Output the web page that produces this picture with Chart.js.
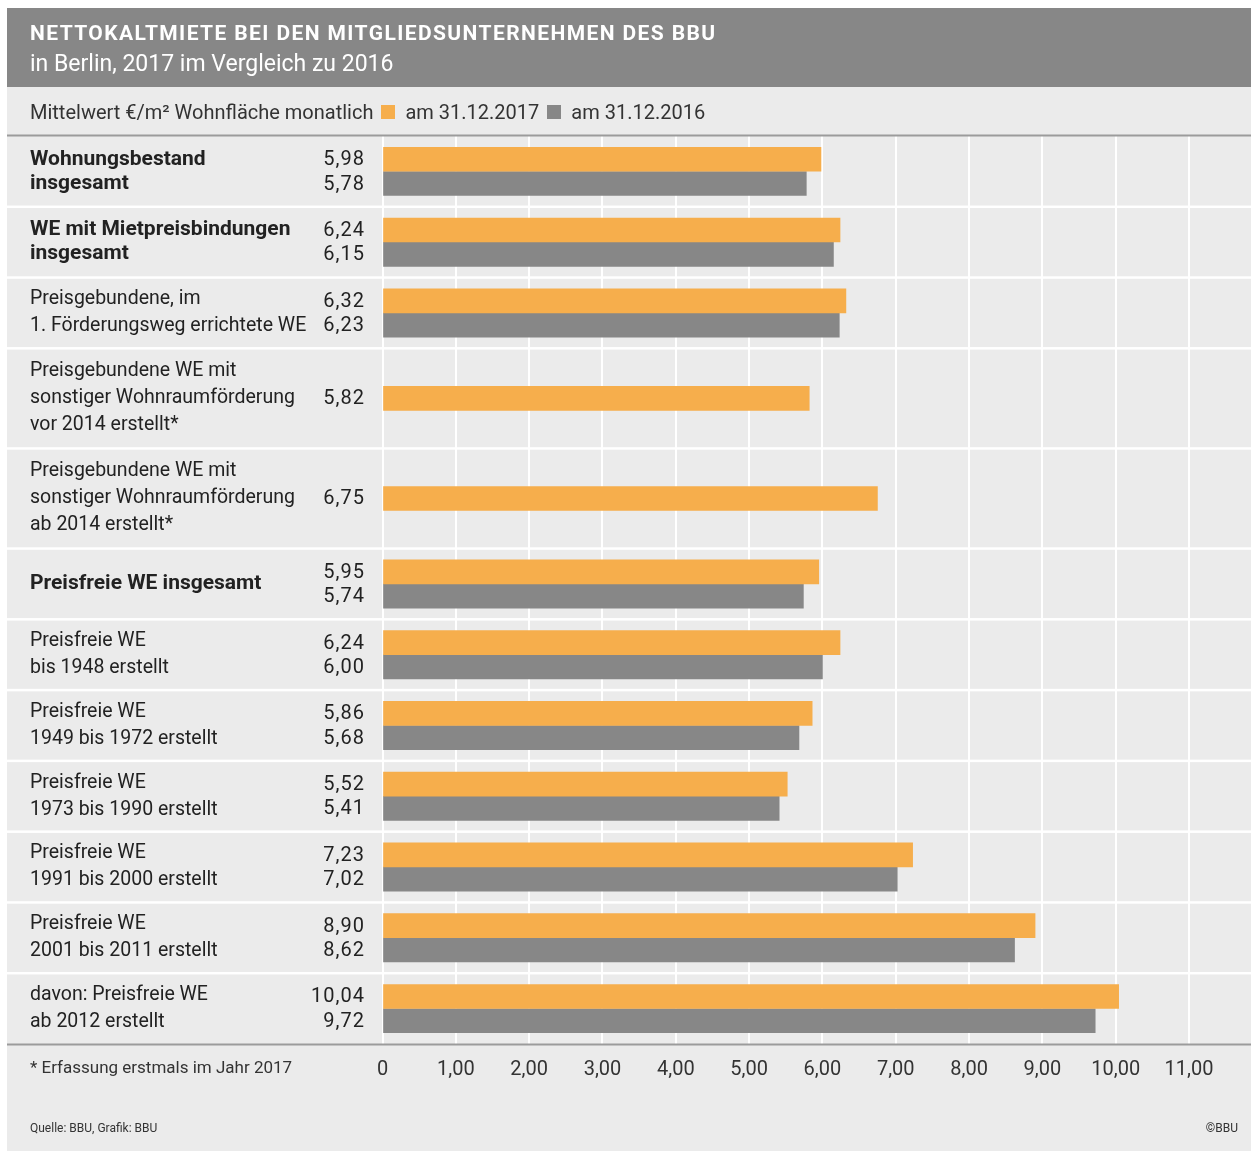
<!DOCTYPE html>
<html lang="de">
<head>
<meta charset="utf-8">
<title>Nettokaltmiete bei den Mitgliedsunternehmen des BBU</title>
<script src="https://cdn.jsdelivr.net/npm/chart.js@4.4.1/dist/chart.umd.min.js"></script>
<style>
  html, body { margin: 0; padding: 0; background: #ffffff; }
  #wrap { position: relative; width: 1251px; height: 1151px; overflow: hidden; font-family: Roboto, "Noto Sans", sans-serif; color: #222; }
  #chart { position: absolute; left: 0; top: 0; }
  .txt { position: absolute; white-space: nowrap; }
  #title { left: 30px; top: 21px; font-size: 21px; font-weight: 700; letter-spacing: 1.4px; color: #fff; }
  #subtitle { left: 30px; top: 50px; font-size: 23px; color: #fff; }
  #legend { left: 30px; top: 100px; font-size: 20px; color: #333; display: flex; align-items: center; }
  #legend .sw { display: inline-block; width: 14px; height: 14px; margin: 0 10px 0 8px; }
  #legend .item { display: inline-flex; align-items: center; }
  #note { left: 30px; top: 1057px; font-size: 17px; color: #333; }
  #source { left: 30px; top: 1121px; font-size: 12px; color: #333; }
  #copy { right: 13px; top: 1121px; font-size: 12px; color: #333; }
</style>
</head>
<body>
<div id="wrap">
  <canvas id="chart" width="1251" height="1151"></canvas>
  <div class="txt" id="title">NETTOKALTMIETE BEI DEN MITGLIEDSUNTERNEHMEN DES BBU</div>
  <div class="txt" id="subtitle">in Berlin, 2017 im Vergleich zu 2016</div>
  <div class="txt" id="legend"><span>Mittelwert €/m² Wohnfläche monatlich</span></div>
  <div class="txt" id="note">* Erfassung erstmals im Jahr 2017</div>
  <div class="txt" id="source">Quelle: BBU, Grafik: BBU</div>
  <div class="txt" id="copy">©BBU</div>
</div>
<script>
// Kategorien (Zeilenbeschriftungen, je Zeile ein Array von Textzeilen)
const categories = [
  ["Wohnungsbestand", "insgesamt"],
  ["WE mit Mietpreisbindungen", "insgesamt"],
  ["Preisgebundene, im", "1. Förderungsweg errichtete WE"],
  ["Preisgebundene WE mit", "sonstiger Wohnraumförderung", "vor 2014 erstellt*"],
  ["Preisgebundene WE mit", "sonstiger Wohnraumförderung", "ab 2014 erstellt*"],
  ["Preisfreie WE insgesamt"],
  ["Preisfreie WE", "bis 1948 erstellt"],
  ["Preisfreie WE", "1949 bis 1972 erstellt"],
  ["Preisfreie WE", "1973 bis 1990 erstellt"],
  ["Preisfreie WE", "1991 bis 2000 erstellt"],
  ["Preisfreie WE", "2001 bis 2011 erstellt"],
  ["davon: Preisfreie WE", "ab 2012 erstellt"]
];
// Summenzeilen (fett gesetzt)
const totalRows = [0, 1, 5];

// Mittelwerte €/m² Wohnfläche monatlich
const values2017 = [5.98, 6.24, 6.32, 5.82, 6.75, 5.95, 6.24, 5.86, 5.52, 7.23, 8.90, 10.04];
const values2016 = [5.78, 6.15, 6.23, null, null, 5.74, 6.00, 5.68, 5.41, 7.02, 8.62, 9.72];

const seriesLabels = ["am 31.12.2017", "am 31.12.2016"];

// Achsenbeschriftung
const tickValues = [0, 1, 2, 3, 4, 5, 6, 7, 8, 9, 10, 11];
const tickLabels = ["0", "1,00", "2,00", "3,00", "4,00", "5,00", "6,00", "7,00", "8,00", "9,00", "10,00", "11,00"];

// --- Zeilenraster: dreizeilige Beschriftungen bekommen mehr Höhe ---
const ORANGE = "#f6ae4c";
const GREY = "#878787";
const BG = "#ebebeb";
const FONT = "Roboto, 'Noto Sans', sans-serif";
const UNIT_SHORT = 7, UNIT_TALL = 9.9, HALF_BAR = 1.2;
const rowStart = [];
const rowCenter = [];
let acc = 0;
categories.forEach((lines) => {
  const h = lines.length >= 3 ? UNIT_TALL : UNIT_SHORT;
  rowStart.push(acc);
  rowCenter.push(acc + h / 2);
  acc += h;
});
const totalUnits = acc;

const points2017 = values2017.map((v, i) => ({ x: v, y: rowCenter[i] - (values2016[i] == null ? 0 : HALF_BAR) }));
const points2016 = values2016.map((v, i) => v == null ? null : ({ x: v, y: rowCenter[i] + HALF_BAR })).filter(p => p);

const fmt = (v) => v.toFixed(2).replace(".", ",");

// Hintergrundflächen, Zeilentrenner, Linien und Wertbeschriftung
const framePlugin = {
  id: "frame",
  beforeDraw(chart) {
    const { ctx, width, height } = chart;
    ctx.save();
    ctx.fillStyle = "#ffffff";
    ctx.fillRect(0, 0, width, height);
    ctx.fillStyle = BG;
    ctx.fillRect(7, 8, width - 7, height - 8);
    ctx.fillStyle = GREY;
    ctx.fillRect(7, 8, width - 7, 79);
    ctx.restore();
  },
  beforeDatasetsDraw(chart) {
    const { ctx, width, chartArea } = chart;
    const y = chart.scales.y;
    ctx.save();
    ctx.fillStyle = "#ffffff";
    for (let i = 1; i < rowStart.length; i++) {
      const py = y.getPixelForValue(rowStart[i]);
      ctx.fillRect(7, py - 1.25, width - 7, 2.5);
    }
    ctx.fillStyle = "#9b9b9b";
    ctx.fillRect(7, chartArea.top - 1.5, width - 7, 2);
    ctx.fillRect(7, chartArea.bottom - 0.5, width - 7, 2);
    ctx.restore();
  },
  afterDatasetsDraw(chart) {
    const { ctx } = chart;
    ctx.save();
    ctx.font = "20px " + FONT;
    ctx.letterSpacing = "1px";
    ctx.fillStyle = "#222";
    ctx.textAlign = "right";
    ctx.textBaseline = "middle";
    chart.data.datasets.forEach((ds, di) => {
      const meta = chart.getDatasetMeta(di);
      meta.data.forEach((bar, j) => {
        const v = ds.data[j].x;
        ctx.fillText(fmt(v), 365, bar.y + 1);
      });
    });
    ctx.restore();
  }
};

const chart = new Chart(document.getElementById("chart"), {
  type: "bar",
  data: {
    datasets: [
      { label: seriesLabels[0], data: points2017, backgroundColor: ORANGE },
      { label: seriesLabels[1], data: points2016, backgroundColor: GREY }
    ]
  },
  options: {
    responsive: false,
    animation: false,
    indexAxis: "y",
    layout: { padding: { left: 30, top: 136, right: 0, bottom: 57 } },
    datasets: { bar: { grouped: false, barThickness: 24, borderWidth: 0 } },
    plugins: { legend: { display: false }, tooltip: { enabled: false } },
    scales: {
      x: {
        type: "linear",
        position: "bottom",
        min: 0,
        max: 11.845,
        afterBuildTicks(scale) { scale.ticks = tickValues.map(v => ({ value: v })); },
        afterFit(scale) { scale.height = 50; },
        grid: { color: "#ffffff", lineWidth: 2, drawTicks: false },
        border: { display: false },
        ticks: {
          padding: 14,
          color: "#333",
          font: { family: FONT, size: 20 },
          callback: (v, i) => tickLabels[i]
        }
      },
      y: {
        type: "linear",
        position: "left",
        reverse: true,
        offset: false,
        min: 0,
        max: totalUnits,
        afterBuildTicks(scale) { scale.ticks = rowCenter.map(v => ({ value: v })); },
        afterFit(scale) { scale.width = 352.5; },
        grid: { display: false, drawTicks: false },
        border: { display: false },
        ticks: {
          autoSkip: false,
          crossAlign: "far",
          padding: 0,
          color: "#222",
          font: (ctx) => totalRows.includes(ctx.index)
            ? { family: FONT, size: 21, weight: "bold", lineHeight: 1.15 }
            : { family: FONT, size: 19.5, weight: "normal", lineHeight: 1.38 },
          callback: (v, i) => categories[i]
        }
      }
    }
  },
  plugins: [framePlugin]
});

// Legende aus den Datensätzen
const legend = document.getElementById("legend");
chart.data.datasets.forEach((ds) => {
  const item = document.createElement("span");
  item.className = "item";
  const sw = document.createElement("span");
  sw.className = "sw";
  sw.style.background = ds.backgroundColor;
  item.appendChild(sw);
  item.appendChild(document.createTextNode(ds.label));
  legend.appendChild(item);
});
</script>
</body>
</html>
